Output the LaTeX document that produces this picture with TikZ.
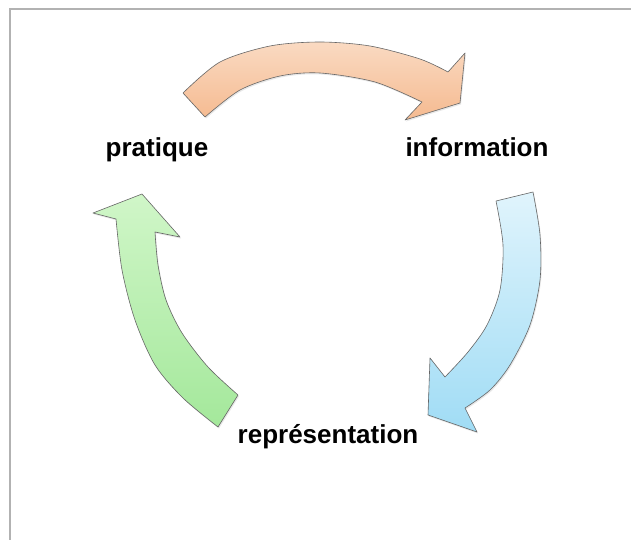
\documentclass[tikz,border=0pt]{standalone}
\usepackage{fontspec}
\setmainfont{Liberation Sans}
\usetikzlibrary{shadows}
\begin{document}
\begin{tikzpicture}[x=1pt,y=-1pt,
  arrowshape/.style={draw=black!60, line width=0.6pt, line join=round,
    drop shadow={opacity=0.18, shadow xshift=1pt, shadow yshift=-1.5pt}},
  lbl/.style={font=\fontsize{26}{30}\selectfont\bfseries, inner sep=0pt, anchor=base},
  frameline/.style={draw=black!30, line width=1.5pt}]
\useasboundingbox (0,0) rectangle (631,540);
\fill[white] (0,0) rectangle (631,540);
\draw[frameline] (10,540) -- (10,9) -- (631,9);

% orange arrow (top)
\path[arrowshape, top color={rgb,255:red,250;green,218;blue,194}, bottom color={rgb,255:red,245;green,186;blue,144}]
  plot[smooth] coordinates {(183,93) (220,62) (270,46) (320,42) (370,46) (420,59) (448,72)}
  -- (465,53) -- (460,103) -- (405,120) -- (422,102)
  -- plot[smooth] coordinates {(422,102) (375,82) (320,73) (280,76) (240,90) (205,117)}
  -- cycle;

% blue arrow (right)
\path[arrowshape, top color={rgb,255:red,224;green,244;blue,252}, bottom color={rgb,255:red,160;green,220;blue,245}]
  plot[smooth] coordinates {(533,192) (540,235) (540,280) (530,325) (510,365) (490,390) (465,408)}
  -- (477,432) -- (428,415) -- (430,358) -- (445,377)
  -- plot[smooth] coordinates {(445,377) (468,352) (487,325) (500,290) (503,245) (496,201)}
  -- cycle;

% green arrow (left)
\path[arrowshape, top color={rgb,255:red,208;green,246;blue,200}, bottom color={rgb,255:red,164;green,232;blue,155}]
  plot[smooth] coordinates {(218,427) (183,398) (155,365) (135,320) (122,270) (116,219)}
  -- (93,213) -- (142,194) -- (180,237) -- (155,232)
  -- plot[smooth] coordinates {(155,232) (158,265) (166,300) (182,333) (208,367) (238,395)}
  -- cycle;

\node[lbl] (prat) at (157,157) {pratique};
\node[lbl] (info) at (477,157) {information};
\node[lbl] (repr) at (328,443) {représentation};
\end{tikzpicture}
\end{document}
